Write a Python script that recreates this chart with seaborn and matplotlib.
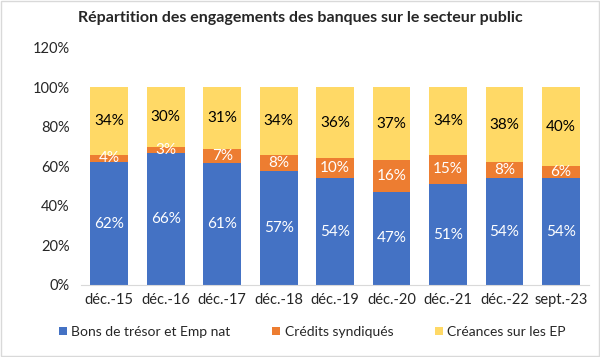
import numpy as np
import matplotlib
matplotlib.use("Agg")
import matplotlib.pyplot as plt
import seaborn as sns

# Values (shares in %)
periods = ["déc.-15", "déc.-16", "déc.-17", "déc.-18", "déc.-19",
           "déc.-20", "déc.-21", "déc.-22", "sept.-23"]
bons = [62, 66, 61, 57, 54, 47, 51, 54, 54]
credits = [4, 3, 7, 8, 10, 16, 15, 8, 6]
creances = [34, 30, 31, 34, 36, 37, 34, 38, 40]

series_names = ["Bons de trésor et Emp nat", "Crédits syndiqués", "Créances sur les EP"]
colors = ["#4472C4", "#ED7D31", "#FFD966"]
label_colors = ["white", "white", "black"]

sns.set_style("white")
plt.rcParams["font.family"] = ["Lato", "DejaVu Sans"]

fig = plt.figure(figsize=(6, 3.57), dpi=100)
fig.patches.append(plt.Rectangle((0.002, 0.003), 0.996, 0.994, transform=fig.transFigure,
                                 fill=False, edgecolor="#d9d9d9", linewidth=1))
ax = fig.add_axes([0.135, 0.202, 0.847, 0.664])

series = np.array([bons, credits, creances], dtype=float)
# labels are rounded, so rescale each column to a 100% stack
shares = series / series.sum(axis=0) * 100
bottom = np.zeros(len(periods))
for raw, vals, name, col, lc in zip(series, shares, series_names, colors, label_colors):
    sns.barplot(x=periods, y=vals, bottom=bottom, color=col, width=0.67,
                label=name, ax=ax, saturation=1, linewidth=0)
    for i, v in enumerate(vals):
        ax.text(i, bottom[i] + v / 2, f"{int(raw[i])}%", ha="center", va="center",
                color=lc, fontsize=11)
    bottom += vals

ax.set_ylim(0, 120)
ax.set_yticks(range(0, 121, 20))
ax.set_yticklabels([f"{t}%" for t in range(0, 121, 20)], fontsize=10.5)
ax.tick_params(axis="x", labelsize=10.5, length=0, pad=6)
ax.tick_params(axis="y", length=0, pad=8)
ax.set_xlabel("")
ax.set_ylabel("")
for s in ["top", "right", "left"]:
    ax.spines[s].set_visible(False)
ax.spines["bottom"].set_color("#d9d9d9")

fig.suptitle("Répartition des engagements des banques sur le secteur public",
             x=0.5, y=0.97, fontsize=11.5, fontweight="bold")

leg = ax.legend(loc="upper center", bbox_to_anchor=(0.455, -0.12), ncol=3,
                frameon=False, fontsize=10, handlelength=0.6, handleheight=0.6,
                handletextpad=0.3, columnspacing=3)

fig.savefig("out.png", dpi=100)
